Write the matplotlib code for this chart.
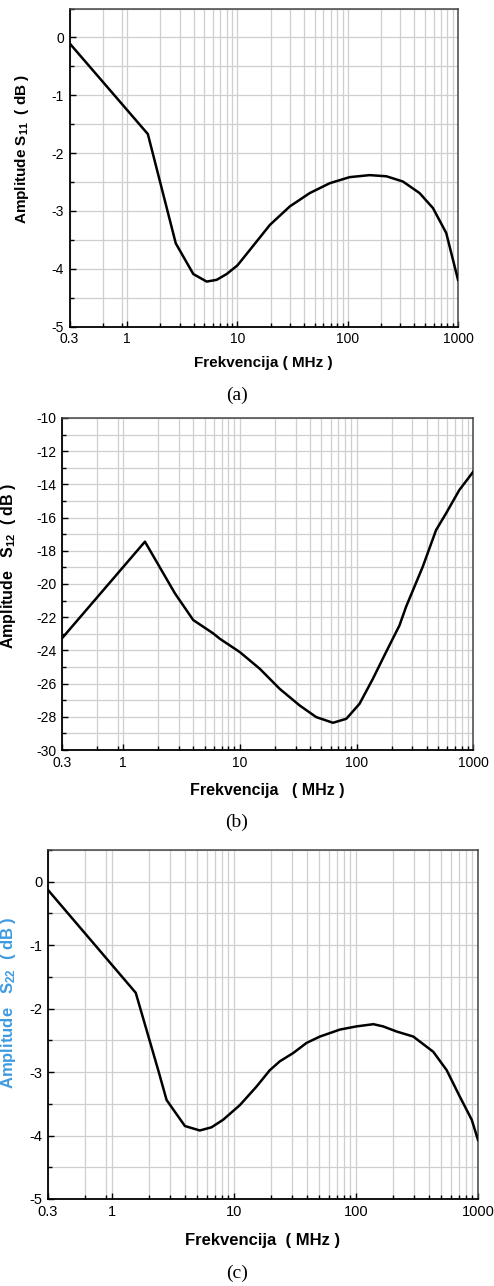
import matplotlib

matplotlib.use("Agg")
import matplotlib.pyplot as plt
import numpy as np

plt.rcParams["font.family"] = ["Liberation Sans", "DejaVu Sans"]
plt.rcParams["mathtext.fontset"] = "custom"
plt.rcParams["mathtext.rm"] = "Liberation Sans:bold"
plt.rcParams["mathtext.it"] = "Liberation Sans:bold"
plt.rcParams["mathtext.bf"] = "Liberation Sans:bold"

W, H = 494, 1286

# S11 (panel a)
f_a = [0.3, 1.54, 2.76, 3.98, 5.26, 6.48, 7.98, 10, 13, 19.7, 29.9, 45.3,
       68.7, 104, 158, 224, 316, 448, 593, 782, 1000]
s11 = [-0.10, -1.67, -3.56, -4.09, -4.22, -4.19, -4.09, -3.94, -3.67, -3.24,
       -2.92, -2.69, -2.52, -2.415, -2.38, -2.40, -2.49, -2.69, -2.95, -3.38,
       -4.19]

# S12 (panel b)
f_b = [0.3, 1.54, 2.78, 3.99, 5.9, 6.75, 10, 14.8, 22, 32.6, 45.2, 62.8,
       81.7, 106, 138, 179, 233, 266, 369, 480, 585, 759, 1000]
s12 = [-23.27, -17.45, -20.56, -22.17, -22.97, -23.3, -24.1, -25.1, -26.32,
       -27.32, -28.02, -28.36, -28.12, -27.22, -25.71, -24.1, -22.5, -21.36,
       -18.96, -16.75, -15.74, -14.34, -13.23]

# S22 (panel c)
f_c = [0.3, 1.57, 2.4, 2.81, 3.97, 5.26, 6.56, 8.18, 11.2, 15.3, 19.7, 23.8,
       30.6, 39.4, 50.7, 73.9, 101, 139, 167, 215, 295, 430, 554, 711, 888,
       1000]
s22 = [-0.13, -1.75, -2.97, -3.44, -3.85, -3.92, -3.87, -3.75, -3.52, -3.23,
       -2.97, -2.83, -2.70, -2.54, -2.44, -2.33, -2.28, -2.245, -2.28, -2.36,
       -2.44, -2.68, -2.97, -3.39, -3.75, -4.07]

x_major = [0.3, 1, 10, 100, 1000]
x_major_labels = ["0.3", "1", "10", "100", "1000"]
x_minor = [0.6, 0.9] + [k * 10.0 ** d for d in range(0, 3) for k in range(2, 10)]

panels = [
    dict(f=f_a, s=s11, box=(69.5, 8.5, 458, 326.7), ylim=(-5, 0.5),
         ymaj=np.arange(-5, 1, 1), ymin=np.arange(-4.5, 0.6, 1.0),
         ylab=r"Amplitude S$_{11}$  ( dB )", ylab_xy=(22, 149), ylab_col="black",
         xlab="Frekvencija ( MHz )", xlab_y=363, tag="(a)", tag_y=395,
         fs_tick=10, fs_lab=11),
    dict(f=f_b, s=s12, box=(62, 418, 473.3, 750), ylim=(-30, -10),
         ymaj=np.arange(-30, -9, 2), ymin=np.arange(-29, -10, 2),
         ylab=r"Amplitude   S$_{12}$  ( dB )", ylab_xy=(9, 566), ylab_col="black",
         xlab="Frekvencija   ( MHz )", xlab_y=790, tag="(b)", tag_y=822,
         fs_tick=10, fs_lab=11.5),
    dict(f=f_c, s=s22, box=(48, 850, 478, 1199), ylim=(-5, 0.5),
         ymaj=np.arange(-5, 1, 1), ymin=np.arange(-4.5, 0.6, 1.0),
         ylab=r"Amplitude   S$_{22}$  ( dB )", ylab_xy=(9, 1003), ylab_col="#3d9be0",
         xlab="Frekvencija  ( MHz )", xlab_y=1241, tag="(c)", tag_y=1273,
         fs_tick=10.5, fs_lab=12),
]

fig = plt.figure(figsize=(W / 100, H / 100), dpi=100)

for p in panels:
    x0, y0, x1, y1 = p["box"]
    ax = fig.add_axes([x0 / W, 1 - y1 / H, (x1 - x0) / W, (y1 - y0) / H])
    ax.set_xscale("log")
    ax.set_xlim(0.3, 1000)
    ax.set_ylim(*p["ylim"])
    ax.set_xticks(x_major)
    ax.set_xticklabels(x_major_labels)
    ax.set_xticks(x_minor, minor=True)
    ax.set_xticklabels([], minor=True)
    ax.set_yticks(p["ymaj"])
    ax.set_yticklabels([f"{v:g}" for v in p["ymaj"]])
    ax.set_yticks(p["ymin"], minor=True)
    ax.grid(True, which="both", color="#cfcfcf", lw=0.9, zorder=0)
    ax.tick_params(which="both", direction="in", top=False, right=False,
                   labelsize=p["fs_tick"], pad=4, width=1)
    ax.tick_params(which="major", length=4.5)
    ax.tick_params(which="minor", length=2.8)
    for side in ["left", "bottom"]:
        ax.spines[side].set_linewidth(1.3)
        ax.spines[side].set_color("black")
    for side in ["top", "right"]:
        ax.spines[side].set_linewidth(1.1)
        ax.spines[side].set_color("#444444")
    ax.plot(p["f"], p["s"], color="black", lw=1.8, zorder=3,
            solid_joinstyle="round")

    xc = (x0 + x1) / 2
    fig.text(xc / W, 1 - p["xlab_y"] / H, p["xlab"], ha="center", va="center",
             fontsize=p["fs_lab"], fontweight="bold")
    fig.text(237 / W, 1 - p["tag_y"] / H, p["tag"], ha="center", va="center",
             fontsize=14, family=["Liberation Serif", "DejaVu Serif"])
    lx, ly = p["ylab_xy"]
    fig.text(lx / W, 1 - ly / H, p["ylab"], ha="center", va="center",
             rotation=90, fontsize=p["fs_lab"], fontweight="bold",
             color=p["ylab_col"])

fig.savefig("out.png", dpi=100)
